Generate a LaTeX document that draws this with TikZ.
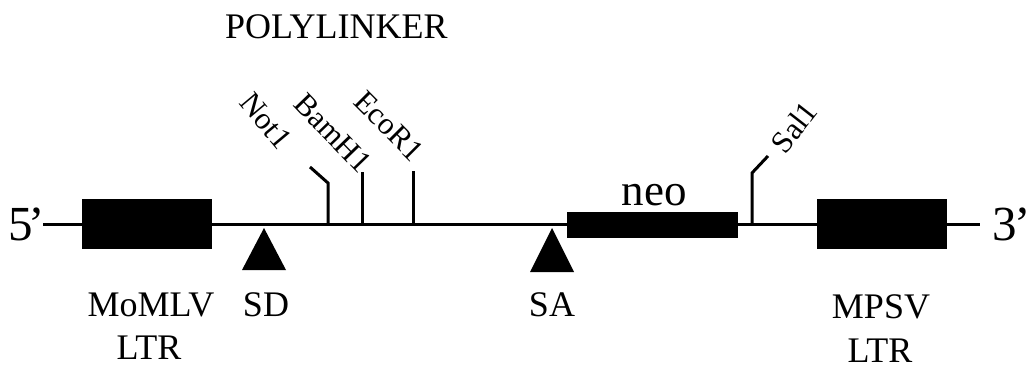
\documentclass[tikz,border=0pt]{standalone}
\usepackage{fontspec}
\setmainfont{Liberation Serif}
\begin{document}
\begin{tikzpicture}[x=1pt,y=-1pt,
  dna/.style={line width=3pt},
  tick/.style={line width=3pt},
  blk/.style={draw=none,fill=black,inner sep=0pt,rectangle},
  lbl/.style={inner sep=0pt,font=\fontsize{36}{40}\selectfont},
  end/.style={inner sep=0pt,font=\fontsize{49}{52}\selectfont},
  site/.style={inner sep=0pt,font=\fontsize{31}{34}\selectfont},
  splice/.style={fill=black,draw=none}]
\useasboundingbox (0,0) rectangle (1036,372);
% backbone
\coordinate (L) at (43,224);
\coordinate (R) at (980,224);
\draw[dna] (L) -- (R);
% boxes
\node[blk,minimum width=130pt,minimum height=50pt] (ltr1) at (147,224) {};
\node[blk,minimum width=171pt,minimum height=26pt] (neo) at (652.5,225) {};
\node[blk,minimum width=130pt,minimum height=50pt] (ltr2) at (882,224) {};
% ends
\node[end,anchor=base west] (five) at (8,240) {5\kern-4pt’};
\node[end,anchor=base west] (three) at (992,240) {3\kern-2pt’};
% splice triangles
\coordinate (sdA) at (264,228);
\coordinate (sdL) at (242,270);
\coordinate (sdR) at (286,270);
\fill[splice] (sdA) -- (sdL) -- (sdR) -- cycle;
\coordinate (saA) at (552,228);
\coordinate (saL) at (530,272);
\coordinate (saR) at (574,272);
\fill[splice] (saA) -- (saL) -- (saR) -- cycle;
% restriction sites
\coordinate (n0) at (328,224);
\coordinate (n1) at (328,183);
\coordinate (n2) at (310,167);
\draw[tick,line join=miter] (n0) -- (n1) -- (n2);
\coordinate (b0) at (362,224);
\coordinate (b1) at (362,172);
\draw[tick] (b0) -- (b1);
\coordinate (e0) at (413,224);
\coordinate (e1) at (413,171);
\draw[tick] (e0) -- (e1);
\coordinate (s0) at (752,224);
\coordinate (s1) at (752,173);
\coordinate (s2) at (768,156);
\draw[tick,line join=miter] (s0) -- (s1) -- (s2);
% site labels
\node[site,rotate=-50] (not) at (266,121) {Not1};
\node[site,rotate=-46] (bam) at (333,133) {BamH1};
\node[site,rotate=-45] (eco) at (389,126) {EcoR1};
\node[site,rotate=52] (sal) at (794,127) {Sal1};
% texts
\node[lbl,anchor=base west] (poly) at (225,38) {POLYLINKER};
\node[inner sep=0pt,font=\fontsize{45}{48}\selectfont,anchor=base] (neot) at (654,205) {neo};
\node[lbl,anchor=base] (mo) at (151,316) {MoMLV};
\node[lbl,anchor=base] (ltra) at (149,359) {LTR};
\node[lbl,anchor=base] (sd) at (266,316) {SD};
\node[lbl,anchor=base] (sa) at (552,316) {SA};
\node[lbl,anchor=base] (mp) at (881,318) {MPSV};
\node[lbl,anchor=base] (ltrb) at (880,362) {LTR};
\end{tikzpicture}
\end{document}
